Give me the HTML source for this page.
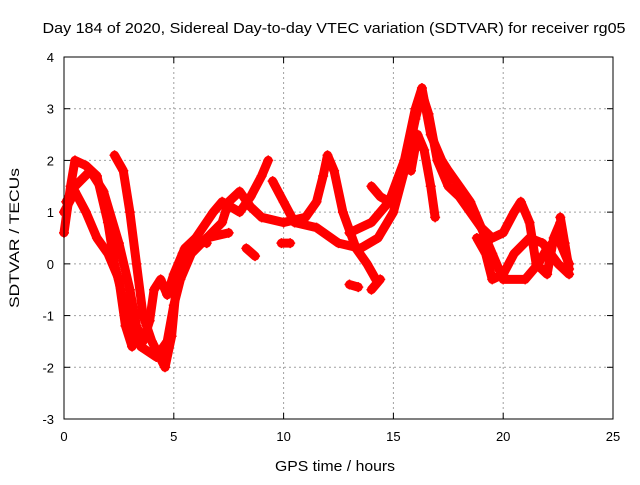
<!DOCTYPE html>
<html><head><meta charset="utf-8"><style>
body{margin:0;background:#fff}
svg text{font-family:"Liberation Sans",sans-serif;font-size:13px;fill:#000}
</style></head><body>
<svg id="chart" width="640" height="480">
<text x="334" y="33" text-anchor="middle" textLength="583" lengthAdjust="spacingAndGlyphs" style="font-size:15px">Day 184 of 2020, Sidereal Day-to-day VTEC variation (SDTVAR) for receiver rg05</text>
<text x="335" y="471" text-anchor="middle" textLength="120" lengthAdjust="spacingAndGlyphs" style="font-size:15px">GPS time / hours</text>
<text transform="translate(19,238) rotate(-90)" text-anchor="middle" textLength="140" lengthAdjust="spacingAndGlyphs" style="font-size:14px">SDTVAR / TECUs</text>
<g id="grid"></g><g id="ticks"></g><g id="marks"></g>
<rect x="64" y="57" width="549" height="362" fill="none" stroke="#000" stroke-width="1"/>
</svg>
<script>
const xTicks=[0,5,10,15,20,25];
const yTicks=[-3,-2,-1,0,1,2,3,4];
const track1=[[0,0.6],[0.3,1.5],[0.5,2.0],[1.0,1.9],[1.5,1.7],[2.0,0.8],[2.3,0],[2.7,-0.7],[3.0,-1.1],[3.5,-1.6],[4.2,-1.8],[4.7,-1.5],[5.0,-0.8],[5.3,-0.3],[5.8,0.2],[6.5,0.5],[7.5,0.6]];
const track2=[[0.1,1.2],[0.5,1.5],[1.2,1.8],[1.8,1.4],[2.5,0.4],[3.0,-0.5],[3.3,-1.2],[3.6,-1.5],[3.9,-1.1],[4.1,-0.5],[4.4,-0.3],[4.7,-0.6],[5.0,-0.2],[5.5,0.3],[6.0,0.5],[6.5,0.4]];
const track3=[[2.3,2.1],[2.7,1.8],[3.0,1.0],[3.3,0],[3.6,-1.0],[4.0,-1.5],[4.6,-2.0],[4.9,-1.4],[5.1,-0.5],[5.4,0.2],[6.0,0.5],[6.8,1.0],[7.2,1.2],[8.0,1.0],[8.5,1.3],[9.0,1.7],[9.3,2.0]];
const track4=[[0,1.0],[0.5,1.4],[1.0,1.0],[1.5,0.5],[2.0,0.2],[2.5,-0.3],[2.8,-1.2],[3.1,-1.6]];
const track5=[[6.5,0.5],[7.2,0.8],[7.5,1.2],[8.0,1.4],[8.5,1.1],[9.0,0.9],[10,0.8],[11,0.9],[11.5,1.2],[11.8,1.7],[12.0,2.1],[12.3,1.8],[12.7,1.0],[13.3,0.3],[13.8,0.0],[14.2,-0.3]];
const track6=[[9.5,1.6],[10,1.2],[10.5,0.8],[11.5,0.7],[12.5,0.4],[13.5,0.3],[14.3,0.5],[15.0,1.0],[15.5,1.8],[16.0,2.8],[16.3,3.3],[16.6,2.9],[17,2.0],[17.5,1.5],[18,1.3],[18.5,1.0],[19,0.7],[19.5,0.5],[20,0.6],[20.5,1.0],[20.8,1.2],[21.2,0.8],[21.5,0],[22,-0.2],[22.3,0.5],[22.6,0.8]];
const track7=[[13,0.6],[14,0.8],[14.8,1.2],[15.5,2.0],[16.0,3.0],[16.3,3.4],[16.7,2.5],[17.2,2.0],[17.5,1.8],[18,1.5],[18.5,1.2],[19,0.7],[19.5,0.2],[20,-0.3],[21,-0.3],[21.6,0],[22,0.3],[22.5,0.5],[23,0]];
const track8=[[15.8,1.8],[16.1,2.5],[16.4,2.2],[16.7,1.5],[16.9,0.9]];
const track9=[[18.8,0.5],[19.2,0.2],[19.5,-0.3],[20,-0.2],[20.5,0.2],[21.2,0.5],[21.8,0.4],[22.5,0],[23,-0.2]];
const track10=[[9.9,0.4],[10.3,0.4]];
const track11=[[8.3,0.3],[8.7,0.15]];
const track12=[[13,-0.4],[13.4,-0.45]];
const track13=[[14,-0.5],[14.4,-0.3]];
const track14=[[14,1.5],[14.4,1.3],[14.8,1.2]];
const track15=[[22.6,0.9],[22.8,0.4],[23,-0.1]];
const tracks=[track1,track2,track3,track4,track5,track6,track7,track8,track9,track10,track11,track12,track13,track14,track15];
const X0=64,X1=613,Y0=419,Y1=57,xmin=0,xmax=25,ymin=-3,ymax=4;
function sx(v){return X0+(v-xmin)/(xmax-xmin)*(X1-X0);}
function sy(v){return Y0-(v-ymin)/(ymax-ymin)*(Y0-Y1);}
const NS="http://www.w3.org/2000/svg";
const grid=document.getElementById('grid'),ticks=document.getElementById('ticks'),marks=document.getElementById('marks');
function mk(tag,attrs,parent){const e=document.createElementNS(NS,tag);for(const k in attrs)e.setAttribute(k,attrs[k]);parent.appendChild(e);return e;}
xTicks.forEach(t=>{const x=sx(t);
 if(t>xmin&&t<xmax){const g=mk('line',{x1:x,x2:x,y1:Y0,y2:Y1,stroke:'#a0a0a0','stroke-dasharray':'2,3'},grid);
 
 }
 mk('line',{x1:x,x2:x,y1:Y0,y2:Y0-6,stroke:'#000'},ticks);mk('line',{x1:x,x2:x,y1:Y1,y2:Y1+6,stroke:'#000'},ticks);
 const l=mk('text',{x:x,y:Y0+22,'text-anchor':'middle'},ticks);l.textContent=t;
 
 });
yTicks.forEach(t=>{const y=sy(t);
 if(t>ymin&&t<ymax){const g=mk('line',{x1:X0,x2:X1,y1:y,y2:y,stroke:'#a0a0a0','stroke-dasharray':'2,3'},grid);
 
 }
 mk('line',{x1:X0,x2:X0+6,y1:y,y2:y,stroke:'#000'},ticks);mk('line',{x1:X1,x2:X1-6,y1:y,y2:y,stroke:'#000'},ticks);
 const l=mk('text',{x:X0-10,y:y+5,'text-anchor':'end'},ticks);l.textContent=t;
 
 });
tracks.forEach((tr,i)=>{
 const p=mk('polyline',{points:tr.map(d=>sx(d[0])+','+sy(d[1])).join(' '),fill:'none',stroke:'#ff0000','stroke-width':9,'stroke-linejoin':'round','stroke-linecap':'round'},marks);
 
 
 tr.forEach(d=>{const x=sx(d[0]),y=sy(d[1]);
  const m=mk('path',{d:`M${x-5},${y}H${x+5}M${x},${y-5}V${y+5}`,stroke:'#ff0000','stroke-width':1.5},marks);
  
  });
});
</script>
</body></html>
